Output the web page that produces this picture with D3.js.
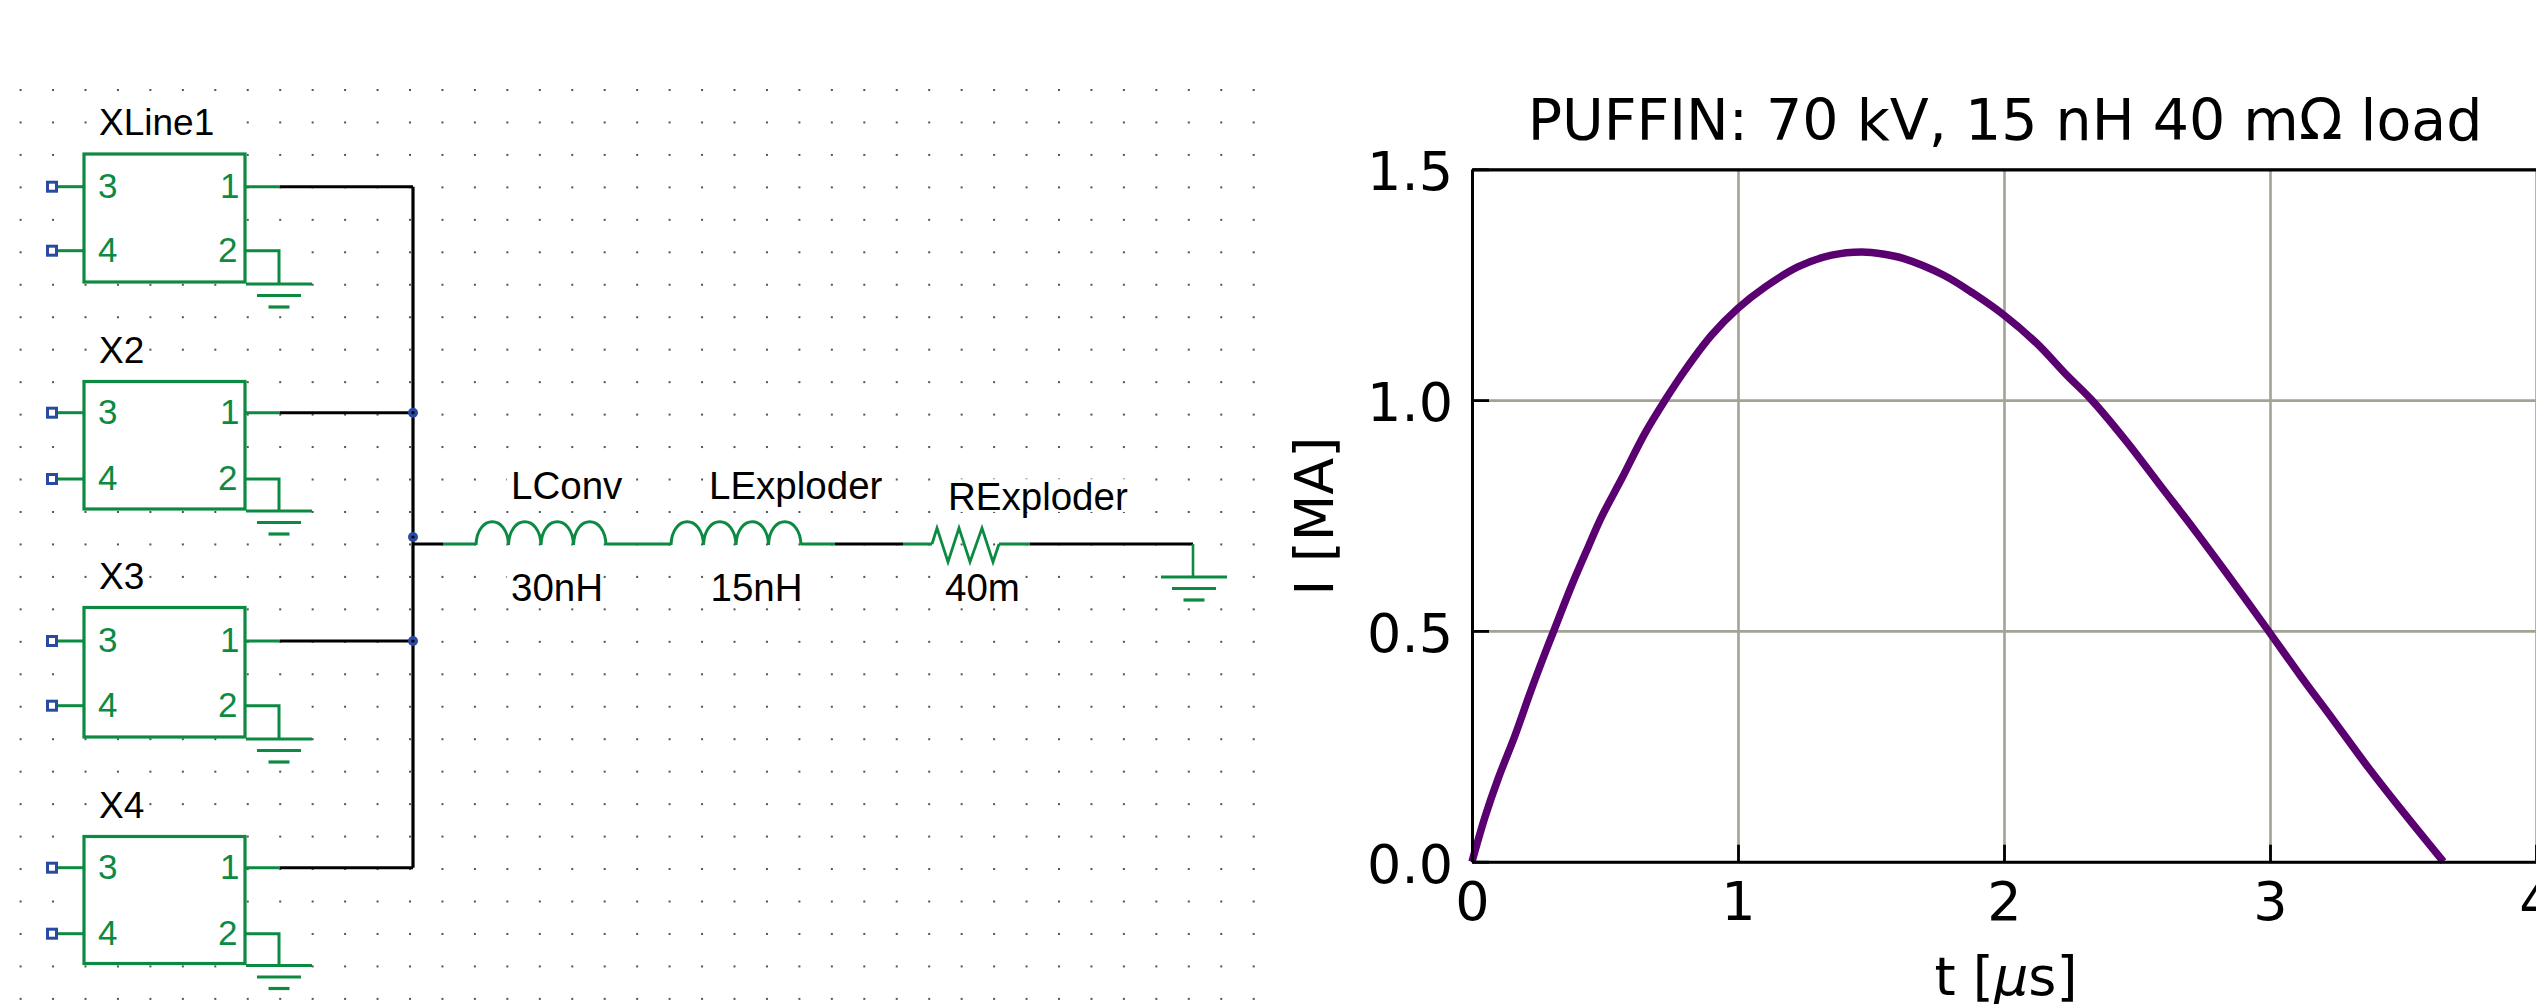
<!DOCTYPE html>
<html>
<head>
<meta charset="utf-8">
<script src="https://cdn.jsdelivr.net/npm/d3@7"></script>
<style>
html,body{margin:0;padding:0;background:#fff;overflow:hidden}
svg{display:block}
</style>
</head>
<body>
<svg id="c" width="2536" height="1004"></svg>
<script>
// ---- Chart data ----
const timeUs = [0,0.049,0.099,0.162,0.218,0.274,0.306,0.375,0.437,0.488,0.563,0.650,0.726,0.801,0.901,1.0,1.102,1.227,1.352,1.465,1.55,1.621,1.772,1.885,2.0,2.123,2.236,2.33,2.461,2.586,2.712,2.837,2.988,3.113,3.238,3.363,3.489,3.652];
const currentMA = [0,0.097,0.181,0.274,0.365,0.451,0.498,0.599,0.682,0.748,0.830,0.928,1.0,1.065,1.141,1.199,1.245,1.289,1.314,1.321,1.316,1.307,1.271,1.231,1.184,1.123,1.054,1.0,0.910,0.816,0.722,0.625,0.505,0.404,0.307,0.209,0.116,0];
const xTicks = [0,1,2,3,4];
const yTicks = [0,0.5,1.0,1.5];
const chartTitle = "PUFFIN: 70 kV, 15 nH 40 mΩ load";
const yLabel = "I [MA]";

// ---- Schematic content ----
const blockNames = ["XLine1","X2","X3","X4"];
const seriesParts = [
  {name:"LConv", value:"30nH", kind:"inductor"},
  {name:"LExploder", value:"15nH", kind:"inductor"},
  {name:"RExploder", value:"40m", kind:"resistor"}
];

const svg = d3.select("#c");
const GREEN="#0c8a42", BLACK="#000", BLUE="#2a4aa0", SANS="'Liberation Sans',Arial,sans-serif", DV="'DejaVu Sans',sans-serif";

// ---- Schematic ----
const sch = svg.append("g");
const dotX = d3.range(0,39).map(i=>20.6+i*32.45);
const dotY = d3.range(0,29).map(i=>90+i*32.46);
dotY.forEach(y=>sch.append("g").selectAll("rect").data(dotX).join("rect")
  .attr("x",d=>d-1).attr("y",y-1).attr("width",2).attr("height",2).attr("fill","#555"));

const blockTop=[154,381.5,607.5,836.5], pin3=[186.7,412.7,641,867.7], pin4=[250.7,479,705.7,933.7], boxB=[282,509,737,963.5];
function path(g,pts,col,w){ g.append("path").attr("d",d3.line()(pts)).attr("fill","none").attr("stroke",col).attr("stroke-width",w).attr("stroke-linejoin","miter"); }
function ground(g,x,y){
  path(g,[[x-33,y],[x+33,y]],GREEN,3.2);
  path(g,[[x-22,y+11.5],[x+22,y+11.5]],GREEN,3.2);
  path(g,[[x-10.5,y+23],[x+10.5,y+23]],GREEN,3.2);
}
function label(g,t,x,y,size,col,bg){
  if(bg) g.append("rect").attr("x",x-4).attr("y",y-size*0.8).attr("width",bg).attr("height",size*0.85).attr("fill","#fff");
  return g.append("text").text(t).attr("x",x).attr("y",y).attr("font-family",SANS).attr("font-size",size).attr("fill",col);
}
const busX=413;
blockNames.forEach((n,i)=>{
  const g=sch.append("g"), t=blockTop[i], b=boxB[i], a=pin3[i], c=pin4[i];
  g.append("rect").attr("x",246).attr("y",c-3).attr("width",52).attr("height",b-c+8).attr("fill","#fff");
  g.append("rect").attr("x",84).attr("y",t).attr("width",161).attr("height",b-t).attr("fill","#fff").attr("stroke",GREEN).attr("stroke-width",3.2);
  label(g,n,99,t-19,37,"#000",n.length>2?130:48);
  [a,c].forEach(y=>{
    path(g,[[57,y],[84,y]],GREEN,3);
    g.append("rect").attr("x",47.5).attr("y",y-4.5).attr("width",9).attr("height",9).attr("fill","#fff").attr("stroke",BLUE).attr("stroke-width",3);
  });
  path(g,[[245,a],[280,a]],GREEN,3);
  path(g,[[280,a],[busX,a]],BLACK,3);
  path(g,[[245,c],[279,c],[279,b+2]],GREEN,3);
  ground(g,279,b+2);
  label(g,"3",98,a+11,35,GREEN);
  label(g,"4",98,c+11,35,GREEN);
  label(g,"1",220,a+11,35,GREEN);
  label(g,"2",218,c+11,35,GREEN);
});
path(sch,[[busX,pin3[0]],[busX,pin3[3]]],BLACK,3.2);
const railY=544;
path(sch,[[busX,railY],[443,railY]],BLACK,3);
path(sch,[[443,railY],[476,railY]],GREEN,3);
path(sch,[[606,railY],[671,railY]],GREEN,3);
path(sch,[[801,railY],[835,railY]],GREEN,3);
path(sch,[[835,railY],[903,railY]],BLACK,3);
path(sch,[[903,railY],[932,railY]],GREEN,3);
path(sch,[[999,railY],[1030,railY]],GREEN,3);
path(sch,[[1030,railY],[1193,railY]],BLACK,3);
path(sch,[[1193,railY],[1193,577]],GREEN,2.6);
ground(sch,1194,577);
function inductor(x0,x1){
  const w=(x1-x0)/4; let d=`M${x0},${railY}`;
  for(let i=0;i<4;i++){
    const a=x0+i*w,b=a+w,dn=railY+1;
    d+=`M${a},${dn} C${a+1},${railY-30} ${b-1},${railY-30} ${b},${dn}`;
  }
  sch.append("path").attr("d",d).attr("fill","none").attr("stroke",GREEN).attr("stroke-width",3);
}
inductor(476,606); inductor(671,801);
path(sch,[[932,railY],[937,528],[948,562],[959,528],[970,562],[982,528],[993,562],[999,railY]],GREEN,2.8);
const partX=[[511,511],[709,710.5],[948,945]], nameY=[499,499,510];
seriesParts.forEach((p,i)=>{
  label(sch,p.name,partX[i][0],nameY[i],38.5,"#000",p.name.length*20+8);
  label(sch,p.value,partX[i][1],600.5,38.5,"#000",p.value.length*22+8);
});
[pin3[1],537,pin3[2]].forEach(y=>{
  sch.append("circle").attr("cx",busX).attr("cy",y).attr("r",5).attr("fill",BLUE);
  sch.append("circle").attr("cx",busX).attr("cy",y).attr("r",1.6).attr("fill","#001");
});

// ---- Chart ----
const x=d3.scaleLinear().domain([0,4]).range([1472,2536]);
const y=d3.scaleLinear().domain([0,1.5]).range([861.7,169.3]);
const plot=svg.append("g");
const GRID="#a2a295";
const gx=plot.append("g").attr("transform",`translate(0,${y(0)})`)
  .call(d3.axisBottom(x).tickValues(xTicks).tickSize(-(y(0)-y(1.5))).tickFormat(""));
gx.select(".domain").remove();
gx.selectAll("line").attr("stroke",GRID).attr("stroke-width",2.6);
const gy=plot.append("g").attr("transform",`translate(${x(0)},0)`)
  .call(d3.axisLeft(y).tickValues(yTicks).tickSize(-(x(4)-x(0))).tickFormat(""));
gy.select(".domain").remove();
gy.selectAll("line").attr("stroke",GRID).attr("stroke-width",2.6);

plot.append("path").datum(timeUs.map((t,i)=>[t,currentMA[i]]))
  .attr("d",d3.line().x(d=>x(d[0])).y(d=>y(d[1])).curve(d3.curveCatmullRom.alpha(0.5)))
  .attr("fill","none").attr("stroke","#5a0070").attr("stroke-width",7.5).attr("stroke-linecap","butt");

function styleAxis(g){
  g.select(".domain").attr("stroke","#000").attr("stroke-width",3);
  g.selectAll(".tick line").attr("stroke","#000").attr("stroke-width",2.8);
  g.selectAll("text").attr("font-family",DV).attr("font-size",54).attr("fill","#000");
}
const ax=plot.append("g").attr("transform",`translate(0,${y(0)})`)
  .call(d3.axisBottom(x).tickValues(xTicks).tickSizeInner(-17).tickSizeOuter(0).tickFormat(d3.format("d")));
styleAxis(ax);
ax.selectAll("text").attr("y",58.5).attr("dy",0);
const ay=plot.append("g").attr("transform",`translate(${x(0)},0)`)
  .call(d3.axisLeft(y).tickValues(yTicks).tickSizeInner(-17).tickSizeOuter(0).tickFormat(d3.format(".1f")));
styleAxis(ay);
ay.selectAll("text").attr("x",-19).attr("dy",20.5).attr("text-anchor","end");
const at=plot.append("g").attr("transform",`translate(0,${y(1.5)})`)
  .call(d3.axisTop(x).tickValues([]).tickSizeOuter(0));
at.select(".domain").attr("stroke","#000").attr("stroke-width",3.2);

const ct=(x(0)+x(4))/2-1;
svg.append("text").text(chartTitle).attr("x",2005).attr("y",140).attr("text-anchor","middle")
  .attr("font-family",DV).attr("font-size",57).attr("fill","#000");
const xl=svg.append("text").attr("x",2006).attr("y",995).attr("text-anchor","middle")
  .attr("font-family",DV).attr("font-size",54).attr("fill","#000");
xl.append("tspan").text("t [");
xl.append("tspan").text("μ").attr("font-style","italic");
xl.append("tspan").text("s]");
svg.append("text").text(yLabel).attr("transform","translate(1333,516) rotate(-90)").attr("text-anchor","middle")
  .attr("font-family",DV).attr("font-size",54).attr("fill","#000");
</script>
</body>
</html>
